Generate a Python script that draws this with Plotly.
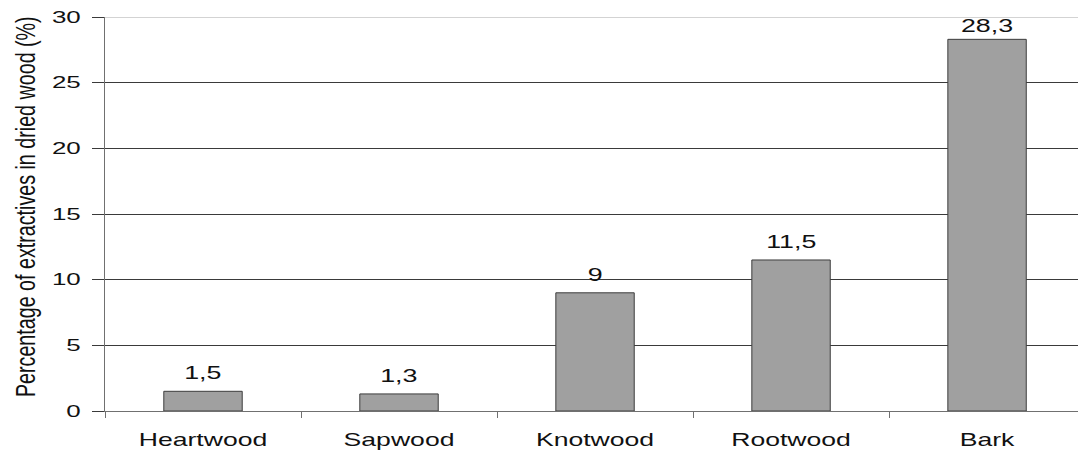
import plotly.graph_objects as go

# Extractive content by wood fraction
categories = ["Heartwood", "Sapwood", "Knotwood", "Rootwood", "Bark"]
values = [1.5, 1.3, 9, 11.5, 28.3]
value_labels = ["1,5", "1,3", "9", "11,5", "28,3"]
y_ticks = [0, 5, 10, 15, 20, 25, 30]
y_title = "Percentage of extractives in dried wood (%)"

FONT = "Liberation Sans, Arial, sans-serif"

WIDTH, HEIGHT = 1078, 450
MARGIN = dict(l=105, r=0, t=17, b=39)
Y_MAX = y_ticks[-1]
px_per_unit = (HEIGHT - MARGIN["t"] - MARGIN["b"]) / Y_MAX

fig = go.Figure(
    go.Bar(
        x=categories,
        y=values,
        width=0.4,
        marker=dict(color="#a0a0a0", line=dict(color="#3c3c3c", width=1)),
        hoverinfo="skip",
    )
)

# Value labels sit above each bar; near the top of the axis they are
# nudged down so they stay inside the plotting area.
label_annotations = []
for cat, val, lab in zip(categories, values, value_labels):
    room = (Y_MAX - val) * px_per_unit
    shift = min(6.0, room - 20.8)
    label_annotations.append(
        dict(
            x=cat,
            y=val,
            xref="x",
            yref="y",
            text=lab,
            showarrow=False,
            xanchor="center",
            yanchor="bottom",
            yshift=shift,
            font=dict(family=FONT, size=18.5, color="#111111"),
        )
    )

title_annotation = dict(
    text=y_title,
    textangle=-90,
    xref="paper",
    yref="paper",
    x=0,
    y=0.5175,
    xanchor="center",
    yanchor="middle",
    xshift=-80,
    showarrow=False,
    font=dict(family=FONT, size=19.7, color="#111111"),
)

fig.update_layout(
    width=WIDTH,
    height=HEIGHT,
    autosize=False,
    margin=MARGIN,
    paper_bgcolor="white",
    plot_bgcolor="white",
    showlegend=False,
    font=dict(family=FONT, color="#111111"),
    xaxis=dict(
        type="category",
        range=[-0.5, 4.464],
        showgrid=False,
        showline=True,
        linecolor="#707070",
        linewidth=1,
        ticks="outside",
        tickson="boundaries",
        ticklen=6,
        tickcolor="#707070",
        tickfont=dict(family=FONT, size=17.5, color="#111111"),
        ticklabelstandoff=13,
        fixedrange=True,
    ),
    yaxis=dict(
        range=[0, Y_MAX],
        tickvals=y_ticks,
        showgrid=True,
        gridcolor="#3a3a3a",
        gridwidth=1,
        zeroline=False,
        showline=True,
        linecolor="#707070",
        linewidth=1,
        ticks="outside",
        ticklen=12,
        tickcolor="#3a3a3a",
        tickfont=dict(family=FONT, size=16, color="#111111"),
        ticklabelstandoff=8,
        fixedrange=True,
    ),
    annotations=label_annotations + [title_annotation],
    shapes=[
        # lighter rule along the top of the value axis
        dict(
            type="line",
            xref="paper",
            yref="y",
            x0=0,
            x1=1,
            y0=Y_MAX,
            y1=Y_MAX,
            line=dict(color="#c4c4c4", width=1.5),
            layer="above",
        )
    ],
)

# Widen the lettering horizontally, keeping each label anchored in place.
stretch_js = """
var gd = document.getElementById('{plot_id}');
function stretchEl(el, mode, s) {
  if (el.dataset.origT === undefined) el.dataset.origT = el.getAttribute('transform') || '';
  var orig = el.dataset.origT;
  el.setAttribute('transform', orig);
  var r = el.getBoundingClientRect();
  var m = el.parentNode.getScreenCTM();
  var ax = mode === 'right' ? r.right : r.left + r.width / 2;
  var px = (ax - m.e) / m.a;
  el.setAttribute('transform', 'translate(' + px + ',0) scale(' + s + ',1) translate(' + (-px) + ',0) ' + orig);
}
function stretchAll() {
  gd.querySelectorAll('.ytick text').forEach(function (t) { stretchEl(t, 'right', 1.62); });
  gd.querySelectorAll('.xtick text').forEach(function (t) { stretchEl(t, 'center', 1.52); });
  gd.querySelectorAll('g.annotation').forEach(function (t) { stretchEl(t, 'center', 1.45); });
}
stretchAll();
gd.on('plotly_afterplot', stretchAll);
"""

fig.write_html("out.html", config={"displayModeBar": False}, post_script=stretch_js)
